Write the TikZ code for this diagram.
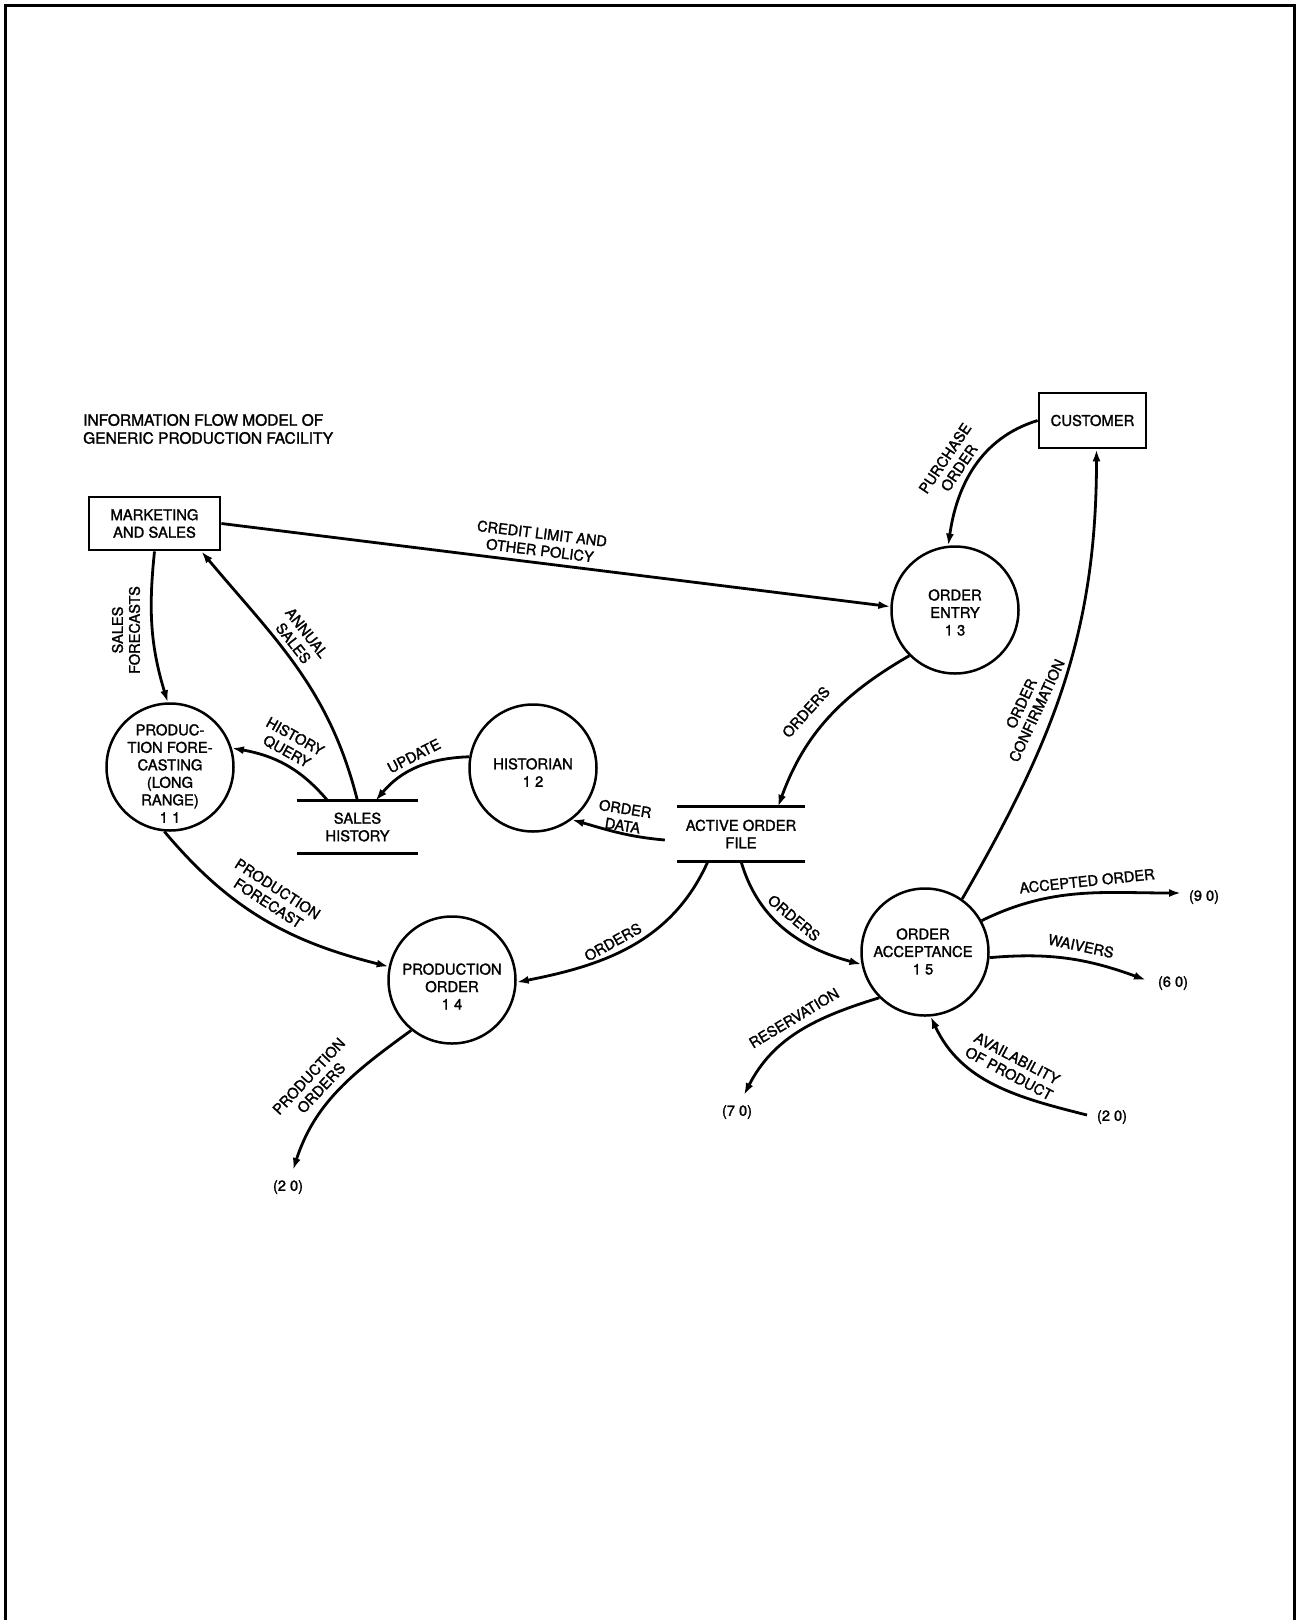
\documentclass[tikz,border=0pt]{standalone}
\usepackage{fontspec}
\setmainfont{TeX Gyre Heros}[RawFeature={embolden=1.6}]
\usetikzlibrary{arrows.meta,calc}

\begin{document}
\begin{tikzpicture}[x=1pt,y=1pt,
  every node/.style={font=\fontsize{14.8}{17.5}\selectfont, align=center},
  box/.style={draw, line width=2.8pt, inner sep=0pt},
  proc/.style={circle, draw, line width=2.5pt, minimum size=127pt, inner sep=0pt},
  store/.style={inner sep=0pt},
  storeline/.style={line width=2.8pt},
  ptext/.style={inner sep=0pt},
  lbl/.style={font=\fontsize{14.6}{17}\selectfont, inner sep=0pt},
  ref/.style={font=\fontsize{14.6}{17}\selectfont, inner sep=0pt},
  flow/.style={line width=2.8pt, -{Latex[length=12pt,width=8pt]}}
]
\useasboundingbox (0,0) rectangle (1301,-1620);

% page frame (open at the bottom)
\draw[line width=3pt] (5,-1620) -- (5,-5) -- (1294,-5) -- (1294,-1620);

% title
\node[anchor=west, align=left, inner sep=0pt, font=\fontsize{15.5}{18}\selectfont]
  (title) at (83,-429) {INFORMATION FLOW MODEL OF\\GENERIC PRODUCTION FACILITY};

% external entities
\node[box, minimum width=131pt, minimum height=53pt] (mkt) at (154.5,-523.5) {MARKETING\\AND SALES};
\node[box, minimum width=107pt, minimum height=55pt] (cust) at (1092.5,-420.5) {CUSTOMER};

% processes
\node[proc] (pf)   at (170,-767) {};
\node[proc] (hist) at (533,-768) {};
\node[proc] (oe)   at (955,-610) {};
\node[proc] (po)   at (452,-980) {};
\node[proc] (oa)   at (925,-952) {};

\node[ptext] (pf-t)   at (170,-773.5) {PRODUC-\\TION FORE-\\CASTING\\(LONG\\RANGE)\\1 1};
\node[ptext] (hist-t) at (533,-772.5) {HISTORIAN\\1 2};
\node[ptext] (oe-t)   at (955,-612.5) {ORDER\\ENTRY\\1 3};
\node[ptext] (po-t)   at (452,-986.5) {PRODUCTION\\ORDER\\1 4};
\node[ptext] (oa-t)   at (923,-951.5) {ORDER\\ACCEPTANCE\\1 5};

% data stores
\node[store, minimum width=121pt, minimum height=52pt] (sh) at (357.5,-827) {SALES\\HISTORY};
\draw[storeline] (sh.north west) -- (sh.north east) (sh.south west) -- (sh.south east);
\node[store, minimum width=128pt, minimum height=54pt] (aof) at (741,-834) {ACTIVE ORDER\\FILE};
\draw[storeline] (aof.north west) -- (aof.north east) (aof.south west) -- (aof.south east);

% references to other diagrams
\node[ref] (r90)  at (1204,-897)  {(9 0)};
\node[ref] (r60)  at (1173,-983)  {(6 0)};
\node[ref] (r70)  at (737,-1112)  {(7 0)};
\node[ref] (r20b) at (1112,-1117) {(2 0)};
\node[ref] (r20a) at (288,-1187)  {(2 0)};
\coordinate (e90)  at (1181,-893);
\coordinate (e60)  at (1146,-980);
\coordinate (e70)  at (744,-1095);
\coordinate (s20b) at (1087,-1115);
\coordinate (e20a) at (293,-1170);

% flows
\draw[flow] (mkt.south) to[out=-96, in=107] (pf.92);
\draw[flow] (sh.north) to[out=104, in=-50] ($(mkt.south east)+(-20,0)$);
\draw[flow] ($(sh.north west)+(31,0)$) to[out=130, in=-10] (pf.17);
\draw[flow] (hist.170) to[out=182, in=50] ($(sh.north)+(18,0)$);
\draw[flow] (mkt.east) -- (oe.177);
\draw[flow] (cust.west) to[out=197, in=82] (oe.96);
\draw[flow] (oe.225) to[out=210, in=70] ($(aof.north)+(37,0)$);
\draw[flow] ($(aof.west)+(-12,-6)$) to[out=175, in=-16] (hist.-53);
\draw[flow] ($(aof.south)+(-33,0)$) to[out=246, in=11] (po.-2);
\draw[flow] (aof.south) to[out=-74, in=165] (oa.191);
\draw[flow] (oa.55) to[out=60, in=-90] ($(cust.south)+(4,0)$);
\draw[flow] (oa.29) to[out=26, in=180] (e90);
\draw[flow] (oa.-5) to[out=5, in=160] (e60);
\draw[flow] (oa.225) to[out=197, in=63] (e70);
\draw[flow] (s20b) to[out=166, in=-65] (oa.-85);
\draw[flow] (pf.265) to[out=-50, in=166] (po.168);
\draw[flow] (po.231) to[out=216, in=72] (e20a);

% flow labels
\node[lbl, rotate=90]  (l-sf) at (126,-630)  {SALES\\FORECASTS};
\node[lbl, rotate=-52] (l-as) at (300,-638)  {ANNUAL\\SALES};
\node[lbl, rotate=-29] (l-hq) at (291,-744)  {HISTORY\\QUERY};
\node[lbl, rotate=27]  (l-up) at (414,-756)  {UPDATE};
\node[lbl, rotate=-7]  (l-cl) at (541,-542)  {CREDIT LIMIT AND\\OTHER POLICY};
\node[lbl, rotate=56]  (l-po) at (952,-463)  {PURCHASE\\ORDER};
\node[lbl, rotate=48]  (l-o1) at (806,-712)  {ORDERS};
\node[lbl, rotate=-9]  (l-od) at (624,-817)  {ORDER\\DATA};
\node[lbl, rotate=29]  (l-o2) at (613,-942)  {ORDERS};
\node[lbl, rotate=-40] (l-o3) at (794,-918)  {ORDERS};
\node[lbl, rotate=65]  (l-oc) at (1029,-707) {ORDER\\CONFIRMATION};
\node[lbl, rotate=6]   (l-ao) at (1087,-881) {ACCEPTED ORDER};
\node[lbl, rotate=-12] (l-wv) at (1081,-946) {WAIVERS};
\node[lbl, rotate=31]  (l-rs) at (794,-1018) {RESERVATION};
\node[lbl, rotate=-28] (l-ap) at (1013,-1066) {AVAILABILITY\\OF PRODUCT};
\node[lbl, rotate=-33] (l-pf) at (273,-896)  {PRODUCTION\\FORECAST};
\node[lbl, rotate=47]  (l-pr) at (315,-1082) {PRODUCTION\\ORDERS};
\end{tikzpicture}
\end{document}
